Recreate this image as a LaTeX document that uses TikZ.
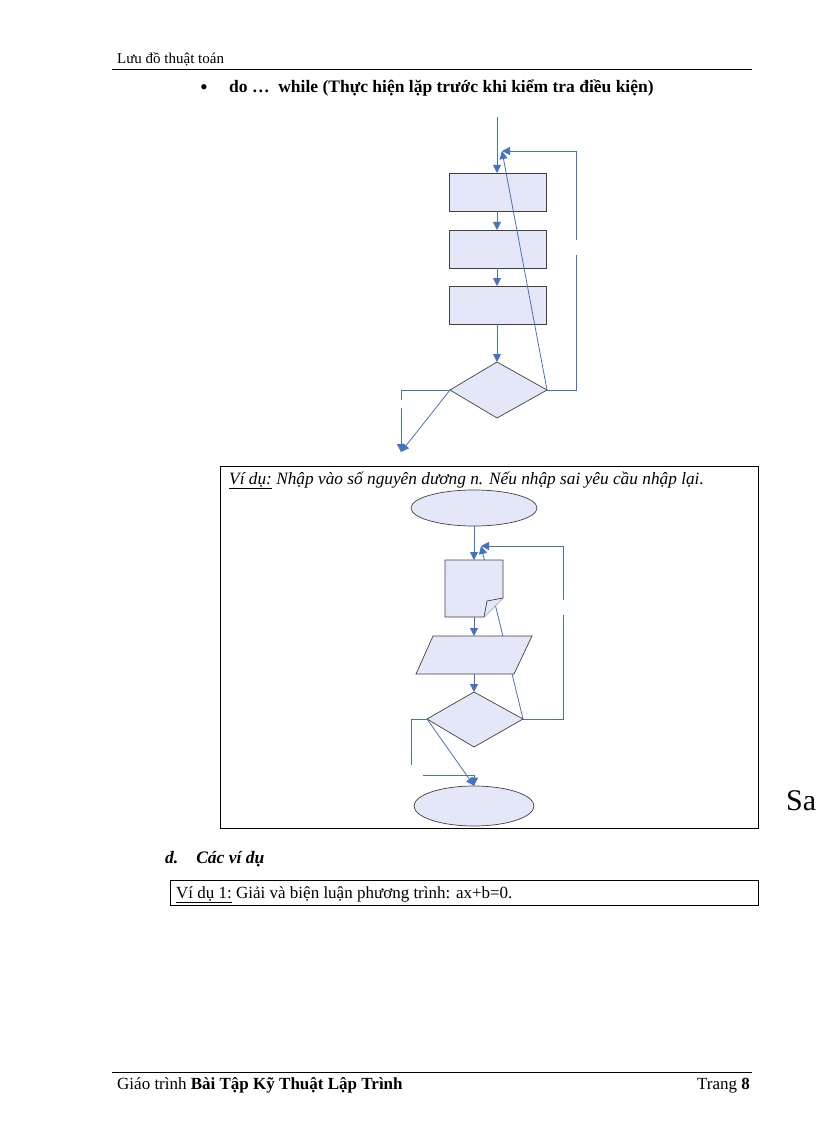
\documentclass[tikz,border=0pt]{standalone}
\usepackage{fontspec}
\setmainfont{Liberation Serif}
\usetikzlibrary{arrows.meta,shapes.geometric}
\definecolor{fl}{RGB}{70,114,196}
\definecolor{fb}{RGB}{228,231,248}
\tikzset{x=1pt,y=-1pt,
 shp/.style={draw=black!75,fill=fb,line width=0.7pt},
 ln/.style={draw=fl,line width=0.8pt},
 ar/.style={ln,-{Triangle[length=8pt,width=8pt]}},
 txt/.style={inner sep=0pt,anchor=base west,font=\fontsize{17}{20}\selectfont}}
\begin{document}
\begin{tikzpicture}
\useasboundingbox (0,0) rectangle (816,1123);
\clip (0,0) rectangle (816,1123);
% header
\node[txt,font=\fontsize{15}{18}\selectfont] (hd) at (117,64) {Lưu đồ thuật toán};
\draw[line width=0.8pt] (112,69) -- (752,69);
\node[txt,font=\fontsize{22}{22}\selectfont] (bl) at (200,95) {\textbullet};
\node[txt,font=\fontsize{17.5}{20}\selectfont] (t1) at (229,93) {\textbf{do …\ \ while (Thực hiện lặp trước khi kiểm tra điều kiện)}};
% top flowchart
\coordinate (s0) at (497,117);
\node[shp,minimum width=97pt,minimum height=38pt,inner sep=0pt,rectangle] (b1) at (498,192) {};
\node[shp,minimum width=97pt,minimum height=38pt,inner sep=0pt,rectangle] (b2) at (498,249) {};
\node[shp,minimum width=97pt,minimum height=38pt,inner sep=0pt,rectangle] (b3) at (498,305) {};
\coordinate (m) at (502,151);
\draw[ln] (547,390) -- (576,390) -- (576,255);
\draw[ln] (576,240) -- (576,151) -- (510,151);
\draw[ar] (547,390) -- (m);
\draw[ar] (576,151) -- (m);
\draw[ar] (s0) -- (497,173);
\draw[ar] (497,211) -- (497,230);
\draw[ar] (497,268) -- (497,286);
\draw[shp] (497,362) -- (547,390) -- (497,418) -- (450,390) -- cycle;
\coordinate (dl) at (450,390);
\coordinate (x1) at (401,452);
\draw[ar] (497,324) -- (497,362);
\draw[ln] (dl) -- (401,390) -- (401,400);
\draw[ar] (401,408) -- (x1);
\draw[ar] (dl) -- (x1);
% example box
\draw[line width=0.9pt] (220,466) rectangle (758,828);
\node[txt,font=\fontsize{17.3}{20}\selectfont] (ex) at (229,484) {\textit{\underline{Ví dụ:} Nhập vào số nguyên dương n. Nếu nhập sai yêu cầu nhập lại.}};
\node[shp,ellipse,minimum width=126pt,minimum height=36pt,inner sep=0pt] (e1) at (474,508) {};
\coordinate (m2) at (481,546);
\draw[ln] (523,719) -- (563,719) -- (563,615);
\draw[ln] (563,600) -- (563,546) -- (488,546);
\draw[ar] (563,546) -- (m2);
\draw[ar] (523,719) -- (m2);
\draw[shp] (445,560) -- (503,560) -- (503,598) -- (484,617) -- (445,617) -- cycle;
\draw[shp] (484,617) -- (487,601) -- (503,598);
\coordinate (dt) at (474,560);
\draw[ar] (e1) -- (dt);
\draw[shp] (433,636) -- (532,636) -- (514,674) -- (416,674) -- cycle;
\draw[ar] (474,617) -- (474,636);
\draw[shp] (474,692) -- (523,719) -- (474,747) -- (427,719) -- cycle;
\draw[ar] (474,674) -- (474,692);
\node[shp,ellipse,minimum width=120pt,minimum height=40pt,inner sep=0pt] (e2) at (474,806) {};
\draw[ln] (427,719) -- (411,719) -- (411,765);
\draw[ln] (423,775) -- (474,775) -- (474,785);
\draw[ar] (427,719) -- (e2.north);
\draw[ar] (474,780) -- (e2.north);
\node[txt,font=\fontsize{30}{34}\selectfont] (sa) at (786,810) {Sa};
% section d
\node[txt,font=\fontsize{17.5}{20}\selectfont] (d) at (165,863) {\textbf{\textit{d.\hspace{18pt}Các ví dụ}}};
\draw[line width=0.9pt] (170,880) rectangle (758,905);
\node[txt] (v1) at (176,898) {\underline{Ví dụ 1:} Giải và biện luận phương trình: ax+b=0.};
% footer
\draw[line width=0.8pt] (112,1072) -- (752,1072);
\node[txt] (f1) at (117,1089) {Giáo trình \textbf{Bài Tập Kỹ Thuật Lập Trình}};
\node[txt,anchor=base east] (f2) at (750,1089) {Trang \textbf{8}};
\end{tikzpicture}
\end{document}
